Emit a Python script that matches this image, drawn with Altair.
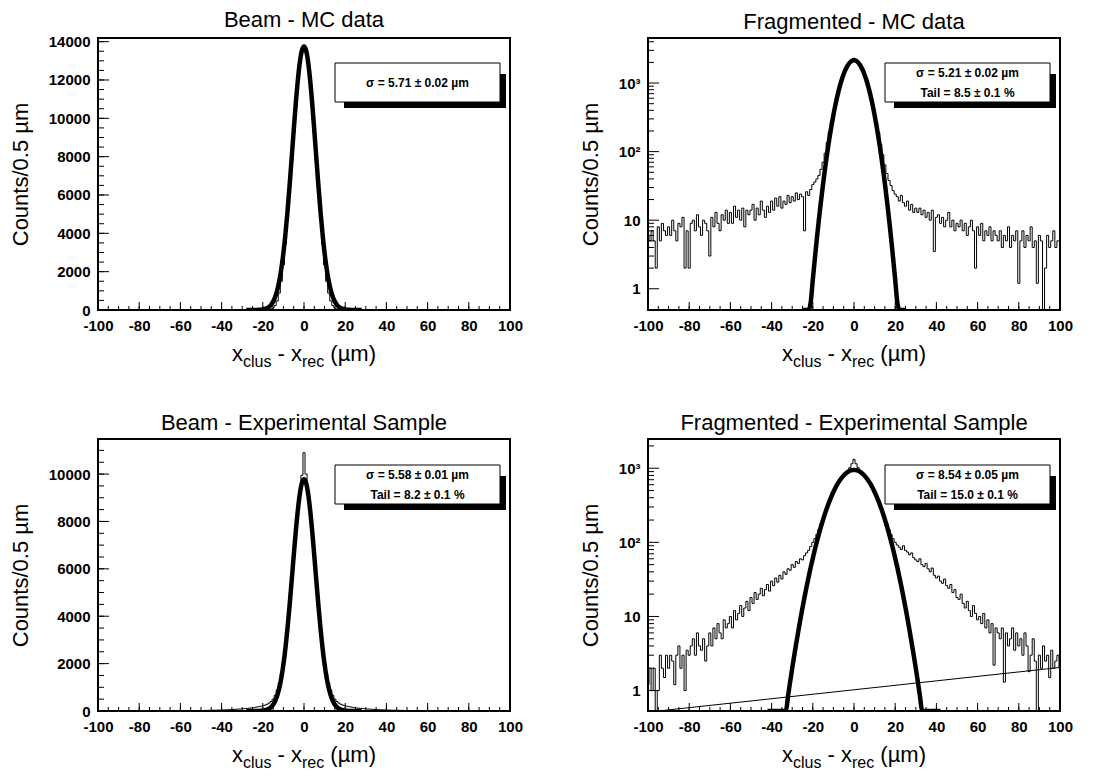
import altair as alt
import pandas as pd

FONT = "Liberation Sans"
W, H = 412, 272

# ---------------- data ----------------
bin_centers = list(range(-100, 101))

beam_mc_counts = [0] * 80 + [
    1, 3, 7, 18, 45, 105, 230, 470, 880, 1500, 2350, 3450, 4750, 6200, 7700, 9200, 10650, 11900, 12900, 13550,
    13800,
    13550, 12900, 11900, 10650, 9200, 7700, 6200, 4750, 3450, 2350, 1500, 880, 470, 230, 105, 45, 18, 7, 3, 1,
] + [0] * 80

beam_mc_fit_x = list(range(-28, 29))
beam_mc_fit = [
    0, 0, 0, 1, 2, 4, 8, 16, 30, 54, 96, 163, 271, 436, 681, 1030, 1511, 2151, 2967, 3971, 5154, 6486, 7917, 9371,
    10758, 11976, 12932, 13541,
    13750,
    13541, 12932, 11976, 10758, 9371, 7917, 6486, 5154, 3971, 2967, 2151, 1511, 1030, 681, 436, 271, 163, 96, 54,
    30, 16, 8, 4, 2, 1, 0, 0, 0,
]

frag_mc_counts = [
    6, 5, 7, 5, 2, 8, 5, 9, 7, 6,
    8, 6, 10, 7, 5, 9, 8, 11, 2, 7,
    2, 9, 10, 7, 12, 8, 6, 10, 9, 7,
    3, 11, 8, 13, 9, 7, 12, 10, 14, 9,
    13, 9, 16, 11, 14, 10, 15, 8, 14, 12,
    14, 17, 10, 15, 12, 19, 14, 11, 16, 13,
    19, 14, 21, 16, 22, 15, 19, 17, 23, 18,
    22, 19, 25, 20, 24, 22, 7, 26, 23, 28,
    33, 36, 40, 45, 55, 70, 95, 135, 195, 275,
    350, 490, 665, 875, 1110, 1360, 1600, 1820, 2000, 2150,
    2300,
    2150, 2000, 1820, 1600, 1360, 1110, 875, 665, 490, 350,
    270, 190, 128, 90, 64, 48, 38, 32, 27, 24,
    22, 19, 23, 18, 16, 19, 14, 17, 13, 15,
    13, 15, 12, 14, 11, 13, 10, 14, 3.5, 11,
    12, 9, 11, 8, 10, 13, 8, 10, 7, 9,
    8, 10, 7, 9, 6, 8, 10, 7, 2, 8,
    6, 9, 5, 7, 6, 8, 5, 7, 6, 5,
    7, 4, 6, 5, 8, 4, 6, 5, 7, 1.2,
    5, 7, 4, 6, 5, 8, 4, 5, 1.2, 6,
    5, 0.5, 2, 6, 4, 5, 7, 4, 5, 5,
]

frag_mc_fit_x = list(range(-25, 26))
frag_mc_fit = [
    0.02, 0.05, 0.12, 0.29, 0.64, 1.35, 2.77, 5.5, 10.5, 19.2, 34.1, 58.1, 95.7, 152, 232, 341, 484, 661, 872,
    1107, 1357, 1601, 1821, 1997, 2111,
    2150,
    2111, 1997, 1821, 1601, 1357, 1107, 872, 661, 484, 341, 232, 152, 95.7, 58.1, 34.1, 19.2, 10.5, 5.5, 2.77,
    1.35, 0.64, 0.29, 0.12, 0.05, 0.02,
]

beam_exp_counts = [
    1, 0, 1, 1, 0, 1, 1, 1, 2, 1,
    1, 2, 1, 2, 2, 1, 2, 2, 3, 2,
    2, 3, 3, 3, 3, 4, 4, 4, 5, 5,
    5, 5, 6, 6, 7, 7, 8, 8, 9, 10,
    10, 11, 12, 13, 14, 15, 16, 17, 18, 19,
    20, 22, 24, 26, 28, 30, 32, 35, 38, 40,
    43, 46, 50, 53, 57, 61, 66, 72, 78, 84,
    90, 97, 105, 115, 125, 137, 150, 165, 180, 200,
    220, 245, 280, 330, 400, 500, 660, 880, 1180, 1580,
    2100, 2750, 3550, 4480, 5500, 6550, 7550, 8450, 9150, 9950,
    10900,
    10000, 9150, 8450, 7550, 6550, 5500, 4480, 3550, 2750, 2100,
    1580, 1180, 880, 660, 500, 400, 330, 280, 245, 220,
    200, 180, 165, 150, 137, 125, 115, 105, 97, 90,
    84, 78, 72, 66, 61, 57, 53, 50, 46, 43,
    40, 38, 35, 32, 30, 28, 26, 24, 22, 20,
    19, 18, 16, 15, 14, 13, 12, 11, 10, 10,
    9, 8, 8, 7, 7, 6, 6, 5, 5, 5,
    4, 4, 4, 3, 3, 3, 3, 3, 2, 2,
    2, 2, 2, 2, 2, 1, 1, 2, 1, 1,
    1, 1, 1, 1, 1, 1, 0, 1, 0, 1,
]

beam_exp_fit_x = list(range(-28, 29))
beam_exp_fit = [
    0, 0, 0, 0, 1, 2, 4, 8, 16, 30, 54, 94, 160, 264, 420, 648, 968, 1401, 1963, 2663, 3499, 4453, 5487, 6546,
    7564, 8464, 9172, 9625,
    9780,
    9625, 9172, 8464, 7564, 6546, 5487, 4453, 3499, 2663, 1963, 1401, 968, 648, 420, 264, 160, 94, 54, 30, 16,
    8, 4, 2, 1, 0, 0, 0, 0,
]

frag_exp_counts = [
    1.2, 2, 1, 2, 0.5, 1, 3, 2, 1.5, 3,
    2, 3, 2.5, 1.2, 3, 4, 2, 3, 1, 3.5,
    3, 4, 5, 3, 6, 4, 3.5, 5, 2.5, 4,
    6, 4, 7, 5, 8, 6, 5, 9, 7, 8,
    10, 7, 12, 9, 11, 14, 10, 13, 16, 12,
    18, 15, 21, 17, 20, 24, 19, 23, 27, 22,
    30, 26, 33, 29, 36, 32, 40, 37, 44, 42,
    50, 46, 55, 52, 60, 58, 66, 72, 78, 88,
    100, 112, 128, 150, 180, 215, 255, 305, 360, 420,
    480, 540, 605, 670, 730, 790, 850, 920, 1020, 1150,
    1320,
    1150, 1020, 920, 850, 790, 730, 670, 605, 540, 480,
    420, 360, 305, 255, 215, 180, 150, 128, 112, 100,
    92, 86, 80, 90, 78, 74, 68, 72, 62, 58,
    55, 60, 50, 47, 52, 44, 40, 45, 36, 33,
    35, 30, 28, 32, 26, 24, 27, 21, 23, 18,
    17, 20, 15, 13, 16, 12, 10, 14, 11, 9,
    10, 8, 11, 7, 9, 6, 8, 2.2, 7, 6,
    5, 7, 1.3, 6, 4, 5, 7, 3.5, 6, 4,
    5, 3, 6, 4, 1.8, 3, 5, 2.5, 0.5, 3,
    2, 4, 2.5, 3, 1.5, 3.5, 2, 2.5, 3, 2,
]

frag_exp_fit_x = list(range(-42, 43))
frag_exp_fit = [
    0.01, 0.01, 0.02, 0.03, 0.05, 0.08, 0.13, 0.22, 0.34, 0.54, 0.85, 1.31, 2.0, 2.98, 4.4, 6.4, 9.24, 13.1,
    18.3, 25.3, 34.4, 46.3, 61, 80, 103, 131, 164, 203, 248, 298, 354, 415, 479, 545, 613, 679, 742, 800, 851,
    893, 924, 943,
    950,
    943, 924, 893, 851, 800, 742, 679, 613, 545, 479, 415, 354, 298, 248, 203, 164, 131, 103, 80, 61, 46.3,
    34.4, 25.3, 18.3, 13.1, 9.24, 6.4, 4.4, 2.98, 2.0, 1.31, 0.85, 0.54, 0.34, 0.22, 0.13, 0.08, 0.05, 0.03,
    0.02, 0.01, 0.01,
]

frag_exp_bg_x = [-95, 100]
frag_exp_bg = [0.53, 2.05]

# axis ticks
x_major_ticks = [-100, -80, -60, -40, -20, 0, 20, 40, 60, 80, 100]
x_minor_ticks = list(range(-100, 101, 5))
beam_mc_y_major = [0, 2000, 4000, 6000, 8000, 10000, 12000, 14000]
beam_mc_y_minor = list(range(0, 14001, 500))
beam_exp_y_major = [0, 2000, 4000, 6000, 8000, 10000]
beam_exp_y_minor = list(range(0, 11001, 500))
log_major = [1, 10, 100, 1000]
frag_mc_log_minor = [2, 3, 4, 5, 6, 7, 8, 9, 20, 30, 40, 50, 60, 70, 80, 90,
                     200, 300, 400, 500, 600, 700, 800, 900, 2000, 3000, 4000]
frag_exp_log_minor = [2, 3, 4, 5, 6, 7, 8, 9, 20, 30, 40, 50, 60, 70, 80, 90,
                      200, 300, 400, 500, 600, 700, 800, 900, 2000]

ONE = pd.DataFrame({"k": [0]})


def panel(title, hist_y, fit_x, fit_y, ydomain, ylog, y_major, y_minor, legend_lines, bottom_row, bg=None):
    xscale = alt.Scale(domain=[-100, 100], nice=False, zero=False)
    xaxis = alt.Axis(values=x_major_ticks, labelExpr="toString(datum.value)", ticks=False, tickSize=0,
                     domain=False, grid=False, labelFont=FONT, labelFontWeight="bold", labelFontSize=15,
                     labelPadding=8, labelColor="black", title=None, labelOverlap=False, labelFlush=False)
    if ylog:
        yscale = alt.Scale(type="log", domain=ydomain, nice=False, clamp=True)
        lab = "datum.value == 1000 ? '10³' : datum.value == 100 ? '10²' : toString(datum.value)"
    else:
        yscale = alt.Scale(domain=ydomain, nice=False, zero=True, clamp=True)
        lab = "toString(datum.value)"
    tmaj, tmin = 11, 6
    yaxis = alt.Axis(values=y_major, labelExpr=lab, ticks=False, tickSize=0, domain=False, grid=False,
                     labelFont=FONT, labelFontWeight="bold", labelFontSize=15, labelPadding=8,
                     labelColor="black", title="Counts/0.5 µm", titleFont=FONT, titleFontSize=22,
                     titleFontWeight="normal", titleColor="black", titlePadding=16, labelOverlap=False,
                     labelFlush=False)

    def X(f):
        return alt.X(f"{f}:Q", scale=xscale, axis=xaxis)

    def Y(f):
        return alt.Y(f"{f}:Q", scale=yscale, axis=yaxis)

    layers = []
    layers.append(alt.Chart(pd.DataFrame({"t": x_minor_ticks})).mark_rule(color="black", strokeWidth=1)
                  .encode(x=X("t"), y=alt.value(H), y2=alt.value(H - 4)))
    layers.append(alt.Chart(pd.DataFrame({"t": x_major_ticks})).mark_rule(color="black", strokeWidth=1)
                  .encode(x=X("t"), y=alt.value(H), y2=alt.value(H - 8)))
    layers.append(alt.Chart(pd.DataFrame({"t": y_minor})).mark_rule(color="black", strokeWidth=1)
                  .encode(y=Y("t"), x=alt.value(0), x2=alt.value(tmin)))
    layers.append(alt.Chart(pd.DataFrame({"t": y_major})).mark_rule(color="black", strokeWidth=1)
                  .encode(y=Y("t"), x=alt.value(0), x2=alt.value(tmaj)))

    hist = pd.DataFrame({"x": bin_centers, "c": hist_y})
    layers.append(alt.Chart(hist).mark_line(interpolate="step", color="black", strokeWidth=1, clip=True)
                  .encode(x=X("x"), y=Y("c")))
    fit = pd.DataFrame({"x": fit_x, "c": fit_y})
    layers.append(alt.Chart(fit).mark_line(interpolate="monotone", color="black", strokeWidth=4.5, clip=True)
                  .encode(x=X("x"), y=Y("c")))
    if bg is not None:
        bgdf = pd.DataFrame({"x": bg[0], "c": bg[1]})
        layers.append(alt.Chart(bgdf).mark_line(color="black", strokeWidth=1, clip=True)
                      .encode(x=X("x"), y=Y("c")))

    # frame
    layers.append(alt.Chart(ONE).mark_rect(fill=None, fillOpacity=0, stroke="black", strokeWidth=2)
                  .encode(x=alt.value(0), x2=alt.value(W), y=alt.value(0), y2=alt.value(H)))

    # legend box with shadow
    by = 26 if bottom_row else 25
    layers.append(alt.Chart(ONE).mark_rect(color="black")
                  .encode(x=alt.value(246), x2=alt.value(408), y=alt.value(by + 11), y2=alt.value(by + 45)))
    layers.append(alt.Chart(ONE).mark_rect(fill="white", stroke="black", strokeWidth=1)
                  .encode(x=alt.value(237), x2=alt.value(402), y=alt.value(by), y2=alt.value(by + 39)))
    if len(legend_lines) == 1:
        ys = [by + 19.5]
    else:
        ys = [by + 10, by + 30]
    for txt, yy in zip(legend_lines, ys):
        layers.append(alt.Chart(ONE).mark_text(text=txt, font=FONT, fontSize=12, fontWeight="bold",
                                                align="center", baseline="middle", color="black")
                      .encode(x=alt.value(319.5), y=alt.value(yy)))

    # x-axis title with subscripts
    x0 = 134
    base = H + 51
    parts = [("x", 0, 22, 0), ("clus", 11, 16, 6), ("- x", 45.5, 22, 0), ("rec", 70, 16, 6),
             ("(µm)", 98.3, 22, 0)]
    for txt, off, size, dy in parts:
        layers.append(alt.Chart(ONE).mark_text(text=txt, font=FONT, fontSize=size, align="left",
                                                baseline="alphabetic", color="black")
                      .encode(x=alt.value(x0 + off), y=alt.value(base + dy)))

    return alt.layer(*layers).properties(
        width=W, height=H,
        title=alt.TitleParams(title, font=FONT, fontSize=22, fontWeight="normal", color="black",
                              anchor="middle", frame="group", offset=3),
    )


p1 = panel("Beam - MC data", beam_mc_counts, beam_mc_fit_x, beam_mc_fit, [0, 14190], False,
           beam_mc_y_major, beam_mc_y_minor, ["σ = 5.71 ± 0.02 µm"], False)
p2 = panel("Fragmented - MC data", frag_mc_counts, frag_mc_fit_x, frag_mc_fit, [0.49, 4540], True,
           log_major, frag_mc_log_minor, ["σ = 5.21 ± 0.02 µm", "Tail = 8.5 ± 0.1 %"], False)
p3 = panel("Beam - Experimental Sample", beam_exp_counts, beam_exp_fit_x, beam_exp_fit, [0, 11480], False,
           beam_exp_y_major, beam_exp_y_minor, ["σ = 5.58 ± 0.01 µm", "Tail = 8.2 ± 0.1 %"], True)
p4 = panel("Fragmented - Experimental Sample", frag_exp_counts, frag_exp_fit_x, frag_exp_fit, [0.53, 2480], True,
           log_major, frag_exp_log_minor, ["σ = 8.54 ± 0.05 µm", "Tail = 15.0 ± 0.1 %"], True,
           bg=(frag_exp_bg_x, frag_exp_bg))

chart = alt.concat(p1, p2, p3, p4, columns=2, spacing={"row": 129, "column": 138}, bounds="flush").configure_view(
    strokeWidth=0
).configure(background="white", padding={"left": 0, "top": 0, "right": 5, "bottom": 0})

chart.save("out.html", embed_options={"renderer": "svg", "actions": False})
